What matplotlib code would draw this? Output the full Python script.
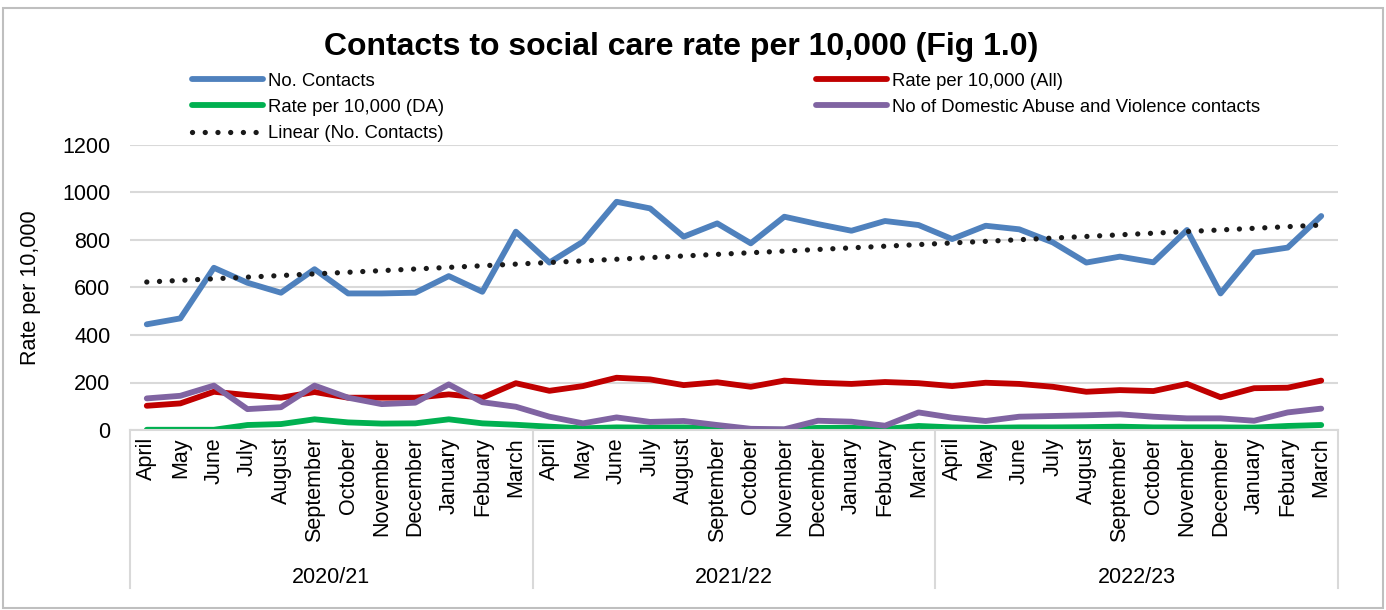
import numpy as np
import matplotlib
matplotlib.use("Agg")
import matplotlib.pyplot as plt
import matplotlib.transforms as mtransforms
from matplotlib.patches import Rectangle

plt.rcParams['font.family'] = ['Liberation Sans', 'DejaVu Sans']

months = ['April', 'May', 'June', 'July', 'August', 'September', 'October',
          'November', 'December', 'January', 'Febuary', 'March']
years = ['2020/21', '2021/22', '2022/23']

contacts = [445, 470, 683, 620, 578, 677, 575, 575, 578, 648, 582, 835,
            705, 793, 961, 933, 814, 870, 786, 898, 867, 839, 880, 863,
            804, 860, 845, 790, 705, 730, 706, 842, 575, 747, 768, 901]
rate_all = [102, 112, 161, 147, 136, 160, 136, 136, 136, 150, 136, 197,
            165, 185, 220, 213, 189, 201, 182, 208, 199, 194, 202, 197,
            185, 199, 194, 182, 161, 168, 164, 194, 138, 176, 178, 208]
rate_da = [1, 1, 1, 21, 25, 45, 32, 27, 28, 45, 28, 22,
           14, 7, 11, 10, 11, 5, 1, 1, 9, 9, 4, 17,
           11, 9, 11, 11, 12, 14, 11, 11, 11, 10, 17, 21]
da_contacts = [133, 144, 187, 88, 96, 187, 136, 109, 115, 192, 117, 98,
               56, 28, 53, 34, 38, 21, 5, 3, 39, 35, 18, 74,
               52, 38, 56, 59, 62, 66, 56, 49, 49, 39, 74, 90]

x = np.arange(len(contacts))
# least-squares trendline through the contacts series
slope, intercept = np.polyfit(x, contacts, 1)
trend = slope * x + intercept

fig = plt.figure(figsize=(13.86, 6.10), dpi=100)
ax = fig.add_axes([130 / 1386, 1 - 430 / 610, 1208 / 1386, 285 / 610])

lw = 4.2
ax.plot(x, contacts, color='#4f81bd', lw=lw, solid_joinstyle='round',
        solid_capstyle='round', label='No. Contacts')
ax.plot(x, rate_all, color='#c00000', lw=lw, solid_joinstyle='round',
        solid_capstyle='round', label='Rate per 10,000 (All)')
ax.plot(x, rate_da, color='#00b050', lw=lw, solid_joinstyle='round',
        solid_capstyle='round', label='Rate per 10,000 (DA)')
ax.plot(x, da_contacts, color='#8064a2', lw=lw, solid_joinstyle='round',
        solid_capstyle='round', label='No of Domestic Abuse and Violence contacts')
ax.plot(x, trend, color='#1a1a1a', lw=3.8, linestyle=(0, (0.01, 2.4)),
        dash_capstyle='round', label='Linear (No. Contacts)')

ax.set_xlim(-0.5, len(x) - 0.5)
ax.set_ylim(0, 1200)
ax.set_yticks(range(0, 1201, 200))
ax.tick_params(axis='y', labelsize=15.5, length=0, pad=14)
ax.set_xticks([])
ax.grid(axis='y', color='#d9d9d9', lw=1.5)
ax.set_axisbelow(True)
for s in ['top', 'right', 'left']:
    ax.spines[s].set_visible(False)
ax.spines['bottom'].set_color('#d9d9d9')
ax.spines['bottom'].set_linewidth(1.5)

ax.set_ylabel('Rate per 10,000', fontsize=15.5, labelpad=15)

# two-level category axis: months, then financial years
trans = mtransforms.blended_transform_factory(ax.transData, ax.transAxes)
for i in x:
    ax.text(i, -0.025, months[i % 12], rotation=90, ha='center', va='top',
            fontsize=15.5, transform=trans)
for k, yr in enumerate(years):
    ax.text(12 * k + 5.5, -0.516, yr, ha='center', va='center',
            fontsize=15.5, transform=trans)
for b in [-0.5, 11.5, 23.5, 35.5]:
    ax.plot([b, b], [0, -0.555], color='#d9d9d9', lw=1.5,
            transform=trans, clip_on=False)

fig.suptitle('Contacts to social care rate per 10,000 (Fig 1.0)',
             x=681 / 1386, y=1 - 47 / 610, va='center',
             fontsize=23, fontweight='bold')

h, l = ax.get_legend_handles_labels()
order = [0, 2, 4, 1, 3]
fig.legend([h[i] for i in order], [l[i] for i in order], ncol=2,
           loc='upper left', bbox_to_anchor=(192 / 1386, 1 - 72.5 / 610),
           frameon=False, fontsize=13.3, borderpad=0, borderaxespad=0,
           handlelength=3.84, handletextpad=0.3, labelspacing=0.5,
           columnspacing=20.1)

fig.patches.append(Rectangle((3 / 1386, 2 / 610), 1380 / 1386, 600 / 610,
                             transform=fig.transFigure, fill=False,
                             edgecolor='#bfbfbf', lw=1.5))

fig.savefig('out.png', dpi=100)
